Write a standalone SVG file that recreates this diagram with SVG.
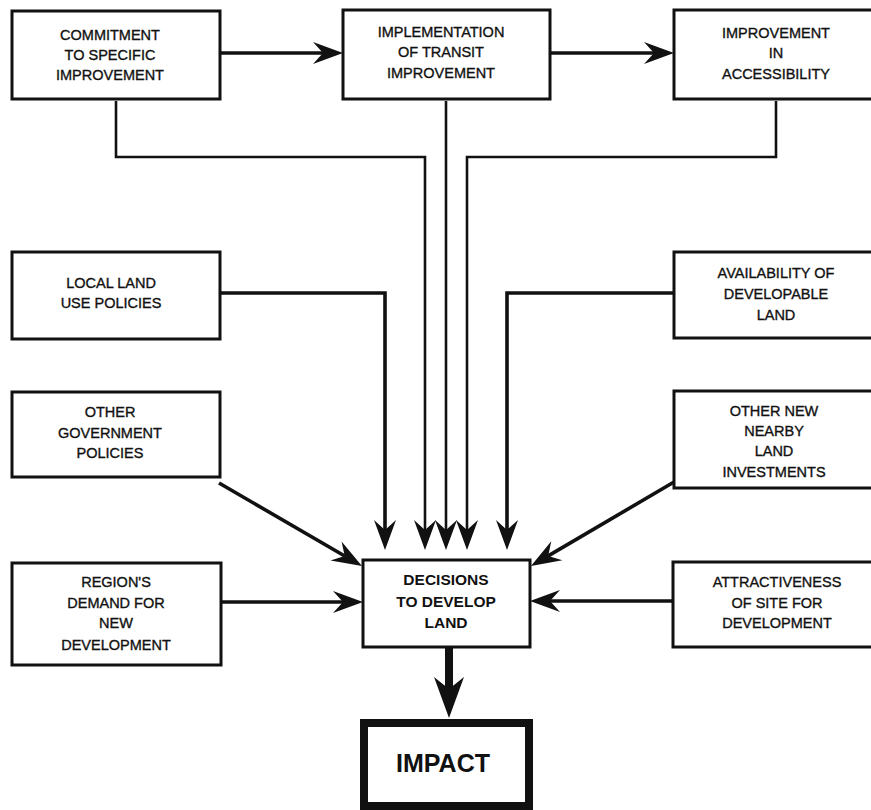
<svg xmlns="http://www.w3.org/2000/svg" width="871" height="810" viewBox="0 0 871 810">
<defs>
<style>
.box{fill:#fff;stroke:#111;stroke-width:3}
.t{font-family:"Liberation Sans",Arial,sans-serif;font-size:14.5px;fill:#111;stroke:#111;stroke-width:0.35;text-anchor:middle}
.tb{font-family:"Liberation Sans",Arial,sans-serif;font-size:15.5px;font-weight:bold;fill:#111;text-anchor:middle}
.ln{fill:none;stroke:#111;stroke-width:2.6}
.thick{stroke-width:3.6}
</style>
<marker id="ah" markerUnits="userSpaceOnUse" markerWidth="30" markerHeight="22" refX="10" refY="11" orient="auto" overflow="visible">
<path d="M0,0 L30,11 L0,22 L10,11 Z" fill="#111"/>
</marker>
<marker id="bigah" markerUnits="userSpaceOnUse" markerWidth="41" markerHeight="30" refX="12" refY="15" orient="auto" overflow="visible">
<path d="M0,0 L41,15 L0,30 L12,15 Z" fill="#111"/>
</marker>
</defs>
<rect width="871" height="810" fill="#fff"/>

<g id="connectors">
<line class="ln thick" x1="220" y1="53" x2="323" y2="53" marker-end="url(#ah)"/>
<line class="ln thick" x1="550" y1="53" x2="654" y2="53" marker-end="url(#ah)"/>
<polyline class="ln" points="116,101 116,157 425,157 425,530" marker-end="url(#ah)"/>
<line class="ln" x1="446" y1="101" x2="446" y2="530" marker-end="url(#ah)"/>
<polyline class="ln" points="776,101 776,157 467,157 467,530" marker-end="url(#ah)"/>
<polyline class="ln thick" points="220,293 385,293 385,530" marker-end="url(#ah)"/>
<polyline class="ln thick" points="674,293 507,293 507,530" marker-end="url(#ah)"/>
<line class="ln thick" x1="219" y1="483" x2="344.7" y2="556" marker-end="url(#ah)"/>
<line class="ln thick" x1="674" y1="482" x2="548.2" y2="555.9" marker-end="url(#ah)"/>
<line class="ln thick" x1="221" y1="602" x2="343" y2="602" marker-end="url(#ah)"/>
<line class="ln thick" x1="673" y1="601" x2="550" y2="601" marker-end="url(#ah)"/>
<line class="ln" style="stroke-width:8" x1="449" y1="648" x2="449" y2="689" marker-end="url(#bigah)"/>
</g>

<g id="commitment">
<rect class="box" x="12" y="11" width="208" height="88"/>
<text class="t" x="110" y="40">COMMITMENT</text>
<text class="t" x="110" y="60">TO SPECIFIC</text>
<text class="t" x="110" y="80">IMPROVEMENT</text>
</g>
<g id="implementation">
<rect class="box" x="343" y="10" width="207" height="89"/>
<text class="t" x="441" y="37">IMPLEMENTATION</text>
<text class="t" x="441" y="57">OF TRANSIT</text>
<text class="t" x="441" y="78">IMPROVEMENT</text>
</g>
<g id="accessibility">
<rect class="box" x="674" y="10" width="210" height="89"/>
<text class="t" x="776" y="38">IMPROVEMENT</text>
<text class="t" x="776" y="58">IN</text>
<text class="t" x="776" y="79">ACCESSIBILITY</text>
</g>
<g id="local-land">
<rect class="box" x="12" y="252" width="208" height="87"/>
<text class="t" x="111" y="288">LOCAL LAND</text>
<text class="t" x="111" y="308">USE POLICIES</text>
</g>
<g id="availability">
<rect class="box" x="674" y="252" width="210" height="86"/>
<text class="t" x="776" y="278">AVAILABILITY OF</text>
<text class="t" x="776" y="299">DEVELOPABLE</text>
<text class="t" x="776" y="320">LAND</text>
</g>
<g id="other-government">
<rect class="box" x="12" y="392" width="208" height="85"/>
<text class="t" x="110" y="417">OTHER</text>
<text class="t" x="110" y="438">GOVERNMENT</text>
<text class="t" x="110" y="458">POLICIES</text>
</g>
<g id="other-new">
<rect class="box" x="674" y="391" width="210" height="97"/>
<text class="t" x="774" y="416">OTHER NEW</text>
<text class="t" x="774" y="436">NEARBY</text>
<text class="t" x="774" y="456">LAND</text>
<text class="t" x="774" y="477">INVESTMENTS</text>
</g>
<g id="region-demand">
<rect class="box" x="12" y="563" width="209" height="102"/>
<text class="t" x="116" y="587">REGION'S</text>
<text class="t" x="116" y="608">DEMAND FOR</text>
<text class="t" x="116" y="628">NEW</text>
<text class="t" x="116" y="650">DEVELOPMENT</text>
</g>
<g id="attractiveness">
<rect class="box" x="673" y="562" width="211" height="85"/>
<text class="t" x="777" y="587">ATTRACTIVENESS</text>
<text class="t" x="777" y="608">OF SITE FOR</text>
<text class="t" x="777" y="628">DEVELOPMENT</text>
</g>
<g id="decisions">
<rect class="box" x="363" y="560" width="167" height="87"/>
<text class="tb" x="446" y="585">DECISIONS</text>
<text class="tb" x="446" y="607">TO DEVELOP</text>
<text class="tb" x="446" y="628">LAND</text>
</g>
<g id="impact">
<rect x="364" y="723" width="165" height="83" fill="#fff" stroke="#111" stroke-width="8"/>
<text class="tb" style="font-size:25px" x="443" y="772">IMPACT</text>
</g>
</svg>
